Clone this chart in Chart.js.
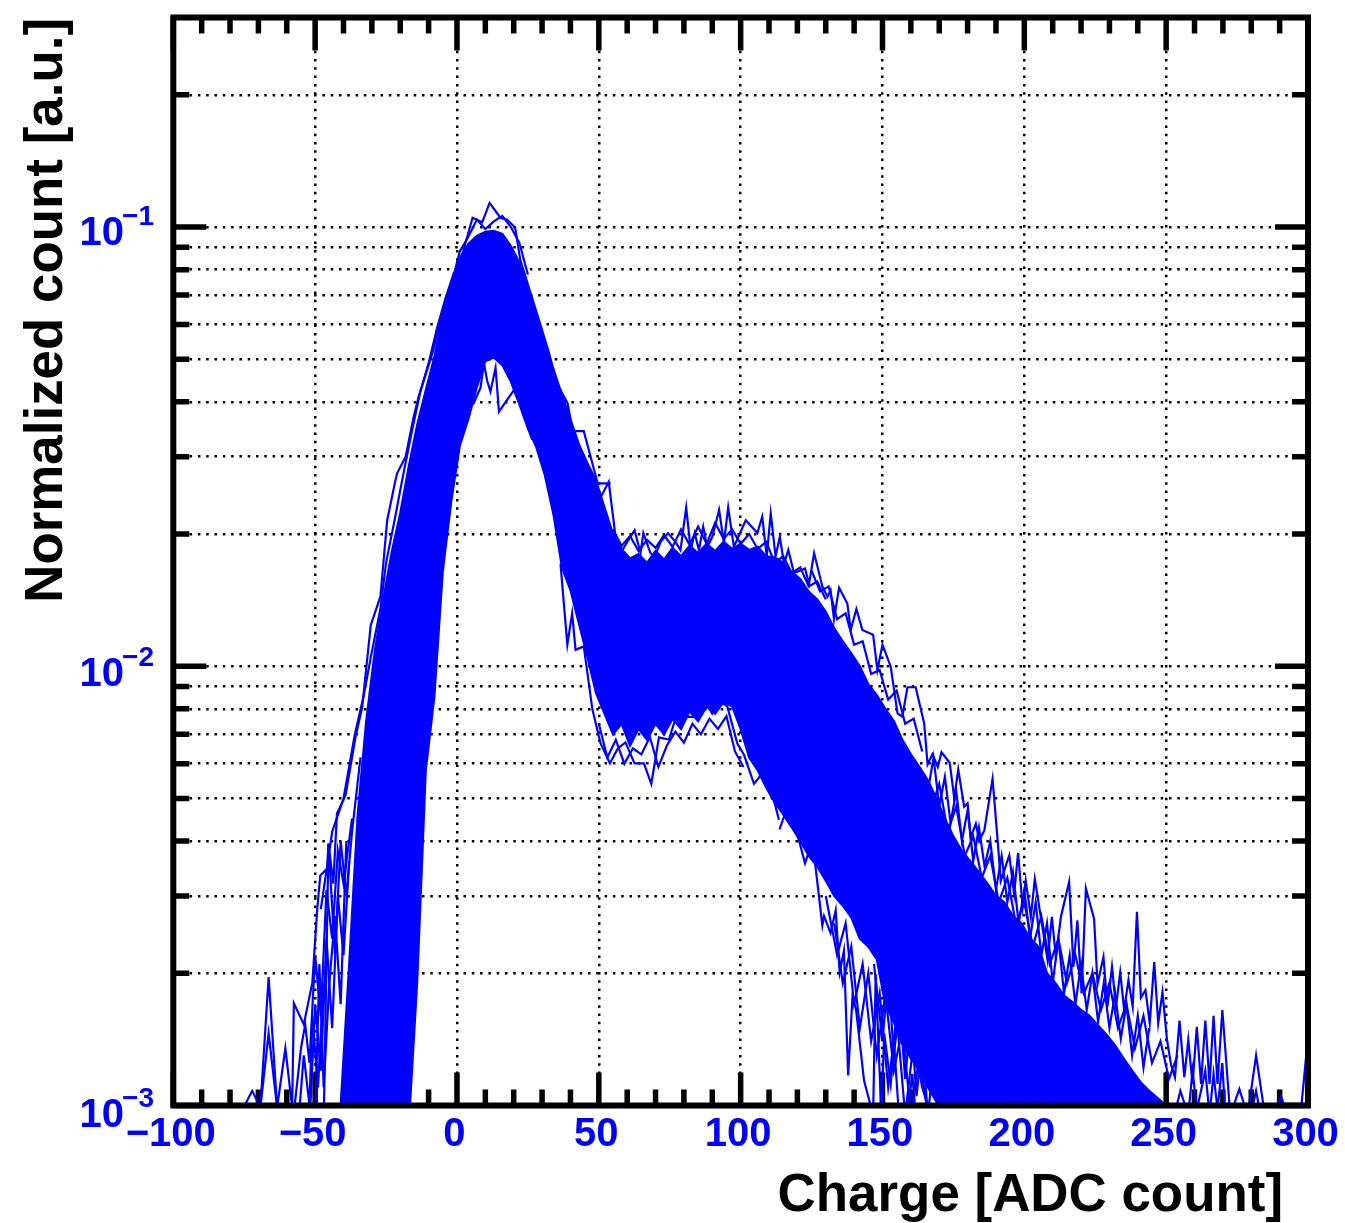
<!DOCTYPE html>
<html>
<head>
<meta charset="utf-8">
<title>Charge spectrum</title>
<script src="https://cdn.jsdelivr.net/npm/chart.js@4/dist/chart.umd.min.js"></script>
<style>
html, body { margin: 0; padding: 0; background: #fff; }
canvas { display: block; }
</style>
</head>
<body>
<canvas id="grafico" width="1345" height="1223"></canvas>
<script>
// Axis values
var xTicks = [-100, -50, 0, 50, 100, 150, 200, 250, 300];
var xTickLabels = ['\u2212100', '\u221250', '0', '50', '100', '150', '200', '250', '300'];
var xMinor = [-90, -80, -70, -60, -40, -30, -20, -10, 10, 20, 30, 40, 60, 70, 80, 90, 110, 120, 130, 140, 160, 170, 180, 190, 210, 220, 230, 240, 260, 270, 280, 290];
var yDecades = [0.001, 0.01, 0.1];
var yDecadeExp = ['\u22123', '\u22122', '\u22121'];
var yMinor = [0.002, 0.003, 0.004, 0.005, 0.006, 0.007, 0.008, 0.009, 0.02, 0.03, 0.04, 0.05, 0.06, 0.07, 0.08, 0.09, 0.2];

// Dense core of the overlapping channels: bin centres, top and bottom edge
var coreX = [-44, -41, -38, -35, -32, -29, -26, -23, -20, -17,
    -14, -11, -8, -5, -2, 1, 4, 7, 10, 13,
    16, 19, 22, 25, 28, 31, 34, 37, 40, 43,
    46, 49, 52, 55, 58, 61, 64, 67, 70, 73,
    76, 79, 82, 85, 88, 91, 94, 97, 100, 103,
    106, 109, 112, 115, 118, 121, 124, 127, 130, 133,
    136, 139, 142, 145, 148, 151, 154, 157, 160, 163,
    166, 169, 172, 175, 178, 181, 184, 187, 190, 193,
    196, 199, 202, 205, 208, 211, 214, 217, 220, 223,
    226, 229, 232, 235, 238, 241, 244, 247, 250, 253];
var coreTop = [.0009, .001, .0021, .0046, .0075, .0108, .0142, .0182, .0223, .0285,
    .0355, .0425, .0505, .0625, .0745, .085, .0915, .0955, .0975, .098,
    .0965, .0905, .083, .072, .0625, .054, .0475, .0415, .0365, .032,
    .029, .0265, .023, .02, .0185, .0176, .018, .0172, .0183, .0175,
    .0186, .0178, .0188, .0181, .019, .0183, .0192, .0185, .019, .0184,
    .0187, .0178, .0177, .0172, .0164, .0158, .0148, .0142, .0133, .0122,
    .0114, .0107, .01, .0091, .0086, .008, .0075, .0068, .0063, .0059,
    .0055, .005, .0045, .0041, .0038, .0036, .0034, .0032, .003, .0029,
    .0027, .0026, .0024, .0023, .002, .0019, .00178, .00172, .00165, .0016,
    .00152, .00145, .00137, .00128, .0012, .00113, .00108, .00104, .001, .00095];
var coreBottom = [.0009, .0009, .0009, .0009, .0009, .0009, .0009, .0009, .0009, .0009,
    .00193, .0058, .0085, .0165, .0238, .0318, .0365, .0432, .0495, .0505,
    .0485, .0445, .0395, .0348, .0315, .0272, .0222, .0168, .0149, .0125,
    .0105, .0087, .0078, .007, .0074, .0066, .0072, .0068, .0074, .007,
    .0076, .0072, .0079, .0075, .0081, .0078, .0083, .0081, .0072, .0062,
    .0058, .0053, .0049, .0046, .0043, .004, .0037, .0035, .00325, .003,
    .00285, .00268, .0024, .0023, .00215, .0017, .00155, .00138, .00128, .0012,
    .0011, .00102, .0009, .0009, .0009, .0009, .0009, .0009, .0009, .0009,
    .0009, .0009, .0009, .0009, .0009, .0009, .0009, .0009, .0009, .0009,
    .0009, .0009, .0009, .0009, .0009, .0009, .0009, .0009, .0009, .0009];

// Outlying channels
var riseX = [-69.3, -66.4, -63.4, -60.5, -58.1, -57.5, -54, -51, -49.3, -48.2, -45.8, -45.3, -43.6, -42.3, -39.3, -35.8, -33.4, -30.4, -27, -24.6, -21.7, -21.1, -18.1, -15.3, -13.5, -8.3, -3.5, -2.3, 2.3, 5.5, 8.9, 11.5, 15.3, 17.6, 20.5, 22.3, 29.4, 32.4, 35.3, 39, 40.8, 44.7, 49.6, 54.2];
var riseY = [.00099, .00196, .00099, .00135, .00099, .00171, .00153, .0019, .00278, .00334, .00346, .00395, .0032, .00462, .00508, .00688, .00808, .0124, .0144, .0215, .0265, .0275, .03, .0369, .0411, .0525, .07, .0692, .0887, .105, .1025, .1135, .105, .104, .0998, .0842, .06, .0518, .044, .0397, .0343, .0343, .0261, .0261];
var riseBX = [-48, -44, -40, -36, -33, -30, -27, -25, -22, -19, -16, -13, -10, -7, -4, -1];
var riseBY = [.0028, .0042, .005, .007, .0085, .0108, .0135, .0172, .0215, .0272, .034, .042, .049, .059, .069, .079];
var peakX = [-2, 1, 4, 7, 10, 13, 16, 19, 22, 25];
var peakY = [.074, .088, .095, .104, .099, .103, .106, .1, .092, .078];

var hollowX = [3.6, 5.9, 8.3, 9.5, 10.6, 11.8, 13.6, 14.8, 20, 21.2, 23.6, 26.5];
var hollowY = [.0388, .0397, .0431, .049, .0448, .0422, .0478, .038, .0425, .0411, .0373, .0328];

var ridgeX = [48.3, 50.6, 53.5, 55.9, 58.3, 60, 62.6, 64.7, 65.7, 68.2, 69.7, 71.8, 74.4, 77, 78.8, 80.8, 82.4, 83.8, 85.3, 86.8, 88.2, 90, 92.4, 94.1, 95.6, 97.6, 101.8, 105.9, 107.6, 109.2, 110.6, 112.3, 113.8, 115.3, 116.8, 118.8, 122.7, 124.1, 125.9, 128.8, 130.6, 131.7, 132.9, 134.7, 137.6, 138.8, 140.8, 142.9, 146.7, 148.2, 150, 152.9, 155.3, 157, 158.8, 161.7, 164.7, 165.9, 167.6, 169.5, 170.8, 173.7, 175.3, 176.7, 178.8, 180, 181.1, 182.9, 184.1, 185.9, 188.8, 190.6, 191.7, 194.7, 196.4, 197.8, 199.4, 200.5, 202.3, 203.7, 208.2, 209.7, 211.1, 212.9, 215.8, 217.3, 218.7, 220.2, 221.7, 224.6, 225.8, 227.9, 229.3, 230.9, 232.3, 233.8, 235.2, 236.7, 238.2, 239.7, 241.1, 242.7, 244.2, 245.8, 247.2, 248.7, 250.3, 251.7, 253.1, 254.7, 256.4, 257.8, 259.3, 260.8, 262.3, 263.8, 265.3, 266.7, 268.1, 269.8, 272.6, 275.8, 278.7, 281.7, 284.8];
var ridgeY = [.0263, .0242, .0263, .0197, .0184, .0192, .0204, .0181, .0201, .0181, .0178, .0192, .0201, .0192, .0184, .023, .0184, .0201, .0184, .0208, .0187, .0197, .0227, .0191, .023, .0187, .0215, .0201, .0219, .0178, .0223, .0178, .0197, .0171, .0184, .0163, .0167, .0154, .0181, .0152, .0144, .0149, .0128, .0151, .0139, .0121, .0135, .0121, .0118, .0098, .0112, .00998, .00781, .00768, .00896, .00896, .00741, .00598, .00631, .0059, .00637, .00603, .00501, .00582, .00479, .00488, .00408, .00438, .00401, .00423, .00554, .00401, .00325, .00371, .00303, .00376, .00283, .00325, .00269, .00328, .00214, .00269, .00218, .00269, .00323, .00207, .00264, .0018, .00312, .00266, .00189, .00218, .00168, .00207, .00168, .00201, .00165, .00193, .00168, .00276, .00176, .00183, .00154, .00212, .00154, .00181, .00141, .00124, .00116, .00156, .00116, .00141, .00112, .00151, .00112, .00156, .00112, .0016, .00112, .00165, .00095, .00109, .00095, .0013, .00095];
var ridgeBX = [55, 58, 61, 64, 67, 70, 73, 76, 79, 82, 85, 88, 91, 94, 97, 100, 103, 106, 109, 112, 115, 118, 121, 124, 127, 130];
var ridgeBY = [.0205, .0188, .0198, .0183, .0194, .0186, .0199, .0187, .0205, .0189, .0208, .019, .0212, .0195, .0205, .019, .02, .0185, .0192, .0172, .0178, .0163, .0168, .0152, .0156, .0142];
var shoulderX = [125, 128, 131, 134, 137, 140, 143, 146, 149, 152, 155, 158, 161, 164];
var shoulderY = [.0165, .0148, .0152, .0128, .0132, .0112, .0114, .0096, .0098, .0084, .0088, .0074, .0076, .0064];

var valleyX = [36.5, 38.9, 40.6, 41.8, 44.7, 47.7, 50.6, 53.9, 56.7, 59.4, 62.6, 65.9, 68.5, 71.2, 74.7, 77.6, 80.6, 83.5, 86.5, 90, 92.9, 95.3, 98.8, 101.2, 104.7, 107.6, 110.6, 113.5];
var valleyY = [.0171, .0112, .0132, .0109, .0111, .008, .00668, .00601, .0065, .00671, .00601, .00601, .0054, .00689, .00681, .0078, .00767, .00767, .00853, .0078, .00831, .0081, .00668, .00628, .0054, .0057, .0053, .00447];
var valleyBX = [50, 53, 56, 59, 62, 65, 68, 71, 74, 77, 80, 83, 86, 89, 92, 95, 98, 101];
var valleyBY = [.0074, .0062, .0068, .006, .0065, .0063, .0069, .0059, .0066, .0071, .0067, .0074, .007, .0076, .0072, .0077, .0064, .0059];

var fallX = [113.7, 117, 122.7, 125.3, 128.8, 129.4, 131.7, 133.5, 134.9, 136.4, 137.9, 139.4, 140.6, 143.5, 146.7, 147.6, 149.6, 150.6, 152.9, 154.1, 155.8, 158.8, 160.5, 161.7];
var fallY = [.00425, .0049, .00356, .00402, .00257, .0027, .00247, .00278, .00201, .00225, .00117, .00176, .00167, .00114, .00095, .00199, .00095, .00146, .00112, .00138, .00095, .00095, .00118, .00095];
var fallBX = [133, 136, 139, 142, 145, 148, 151, 154, 157, 160, 163, 166];
var fallBY = [.0026, .0019, .0023, .0015, .002, .0013, .0018, .0012, .0015, .00095, .0013, .00095];
var fallCX = [130, 134, 137, 140, 143, 146, 149, 152, 155, 158, 161, 164, 167];
var fallCY = [.003, .0022, .0026, .0017, .0021, .0014, .0018, .0011, .0016, .00095, .0014, .0011, .00095];
var fallDX = [147, 150, 152, 154, 156, 158, 160, 162, 164, 166, 168, 170];
var fallDY = [.0021, .0014, .002, .0013, .0017, .00115, .0016, .00105, .0014, .00095, .00125, .00095];

var tailMidX = [166, 168, 170, 172, 174, 176, 178, 180, 182, 184, 186, 188, 190, 192, 194, 196, 198, 200, 202, 204, 206, 208, 210, 212, 214, 216, 218, 220, 222, 224, 226, 228, 230, 232, 234, 236, 238, 240, 242, 244];
var tailMidY = [.0052, .0062, .0048, .0056, .0044, .0052, .004, .0047, .0036, .0043, .0035, .004, .0031, .0037, .0029, .0034, .0026, .0031, .0024, .0029, .0022, .0026, .0019, .0024, .0018, .0022, .0017, .0021, .00165, .002, .00155, .0019, .0015, .0018, .00142, .0017, .0013, .0016, .00122, .0015];
var tailMidBX = [167, 170, 173, 176, 179, 182, 185, 188, 191, 194, 197, 200, 203, 206, 209, 212, 215, 218, 221, 224, 227, 230, 233, 236, 239, 242, 245, 248, 251, 254];
var tailMidBY = [.0047, .0054, .0042, .0048, .0037, .0041, .0033, .0037, .0029, .0033, .0026, .0029, .0023, .0027, .0021, .0024, .0019, .0022, .0018, .002, .00165, .0019, .0015, .0017, .00135, .0016, .00125, .0014, .00115, .0013];
var tailLowX = [252, 255, 257.8, 259.3, 260.8, 262.3, 263.8, 265.3, 266.7, 268.1, 269.8, 271, 279, 281.7, 284];
var tailLowY = [.0009, .00108, .00095, .0012, .00098, .00108, .0012, .00095, .00118, .00098, .00125, .0009, .0009, .00108, .0009];
var tailEndX = [275.8, 287, 290.5, 294, 297, 299.9];
var tailEndY = [.0009, .0009, .00105, .0009, .0009, .00141];

var leftFarX = [-75.2, -72.2, -69.3, -66.4, -63.4];
var leftFarY = [.00099, .00108, .00099, .00146, .00099];
var leftLineX = [-58, -55, -53.5, -52, -50, -48, -46, -44, -42, -40, -37];
var leftLineY = [.0009, .00135, .00153, .00125, .0022, .0016, .0031, .0024, .0038, .0032, .0045];
var leftLine2X = [-47, -45.3, -43, -41, -39, -37, -34];
var leftLine2Y = [.0009, .00395, .0022, .004, .003, .0042, .0062];
var leftLine3X = [-52, -50, -48, -46, -44, -42, -40, -38];
var leftLine3Y = [.0009, .0017, .0012, .0024, .0015, .003, .0022, .0036];
var leftLine4X = [-50, -48.5, -47, -45, -43, -41, -39];
var leftLine4Y = [.0009, .0021, .0011, .0019, .0027, .0017, .004];
var leftLine5X = [-56, -54, -52, -51, -49, -47];
var leftLine5Y = [.0009, .0013, .001, .0016, .0011, .0019];

function puntos(xs, ys) {
    return xs.map(function(x, i) { return { x: x, y: ys[i] }; });
}

function linea(xs, ys, extra) {
    var d = {
        data: puntos(xs, ys),
        borderColor: '#0000ff',
        borderWidth: 2.2,
        pointRadius: 0,
        tension: 0,
        fill: false
    };
    return Object.assign(d, extra || {});
}

var BLUE = '#0000ff';
var FONT = '"Liberation Sans", Arial, sans-serif';

// Ticks inside the frame, exponents and axis titles
var marco = {
    id: 'marco',
    beforeDatasetsDraw: function(chart) {
        var c = chart.ctx, a = chart.chartArea, sx = chart.scales.x, sy = chart.scales.y;
        c.save();
        c.strokeStyle = '#000';
        c.lineWidth = 5.5;
        c.beginPath();
        xTicks.forEach(function(v) {
            var p = sx.getPixelForValue(v);
            c.moveTo(p, a.top); c.lineTo(p, a.top + 33);
            c.moveTo(p, a.bottom); c.lineTo(p, a.bottom - 33);
        });
        xMinor.forEach(function(v) {
            var p = sx.getPixelForValue(v);
            c.moveTo(p, a.top); c.lineTo(p, a.top + 16);
            c.moveTo(p, a.bottom); c.lineTo(p, a.bottom - 16);
        });
        yDecades.forEach(function(v) {
            var p = sy.getPixelForValue(v);
            c.moveTo(a.left, p); c.lineTo(a.left + 33, p);
            c.moveTo(a.right, p); c.lineTo(a.right - 33, p);
        });
        yMinor.forEach(function(v) {
            var p = sy.getPixelForValue(v);
            c.moveTo(a.left, p); c.lineTo(a.left + 16, p);
            c.moveTo(a.right, p); c.lineTo(a.right - 16, p);
        });
        c.stroke();
        c.restore();
    },
    afterDatasetsDraw: function(chart) {
        var c = chart.ctx, a = chart.chartArea, sy = chart.scales.y;
        c.save();
        c.strokeStyle = '#000';
        c.lineWidth = 6;
        c.strokeRect(a.left, a.top, a.right - a.left, a.bottom - a.top);

        // exponentes de los decades
        c.fillStyle = BLUE;
        c.textAlign = 'right';
        c.textBaseline = 'alphabetic';
        yDecades.forEach(function(v, i) {
            var p = sy.getPixelForValue(v);
            c.font = 'bold 40px ' + FONT;
            c.fillText('10', 124, p + 21 - i * 1.5);
            c.font = 'bold 28px ' + FONT;
            c.fillText(yDecadeExp[i], 154, p + 1 - i * 1.5);
        });

        // titulos
        c.fillStyle = '#000';
        c.font = 'bold 52.9px ' + FONT;
        c.textAlign = 'right';
        c.fillText('Charge [ADC count]', 1283, 1211);
        c.translate(62, 18);
        c.rotate(-Math.PI / 2);
        c.fillText('Normalized count [a.u.]', 0, 0);
        c.restore();
    }
};

var datasets = [
    linea(coreX, coreTop, { fill: '+1', backgroundColor: BLUE }),
    linea(coreX, coreBottom),
    linea(riseX, riseY),
    linea(riseBX, riseBY),
    linea(peakX, peakY),
    linea(hollowX, hollowY),
    linea(ridgeX, ridgeY),
    linea(ridgeBX, ridgeBY),
    linea(shoulderX, shoulderY),
    linea(valleyX, valleyY),
    linea(valleyBX, valleyBY),
    linea(fallX, fallY),
    linea(fallBX, fallBY),
    linea(fallCX, fallCY),
    linea(fallDX, fallDY),
    linea(tailMidX, tailMidY),
    linea(tailMidBX, tailMidBY),
    linea(tailLowX, tailLowY),
    linea(tailEndX, tailEndY),
    linea(leftFarX, leftFarY),
    linea(leftLineX, leftLineY),
    linea(leftLine2X, leftLine2Y),
    linea(leftLine3X, leftLine3Y),
    linea(leftLine4X, leftLine4Y),
    linea(leftLine5X, leftLine5Y)
];

new Chart(document.getElementById('grafico').getContext('2d'), {
    type: 'line',
    data: { datasets: datasets },
    plugins: [marco],
    options: {
        responsive: false,
        animation: false,
        parsing: false,
        normalized: false,
        layout: { padding: { left: 0, right: 0, top: 17.5, bottom: 0 } },
        plugins: { legend: { display: false }, tooltip: { enabled: false } },
        scales: {
            x: {
                type: 'linear',
                min: -100,
                max: 300,
                afterBuildTicks: function(s) { s.ticks = xTicks.map(function(v) { return { value: v }; }); },
                afterFit: function(s) { s.height = 117.5; s.paddingRight = 37; s.paddingLeft = 0; },
                grid: { color: '#000', lineWidth: 2.5, drawTicks: false },
                border: { display: false, dash: [2.5, 5.8] },
                ticks: {
                    autoSkip: false,
                    maxRotation: 0,
                    padding: 5,
                    labelOffset: -2.5,
                    color: BLUE,
                    font: { family: FONT, size: 40, weight: 'bold' },
                    callback: function(v) { return xTickLabels[xTicks.indexOf(v)]; }
                }
            },
            y: {
                type: 'logarithmic',
                min: 0.001,
                max: 0.3,
                afterBuildTicks: function(s) {
                    s.ticks = yDecades.concat(yMinor).sort(function(a, b) { return a - b; }).map(function(v) { return { value: v }; });
                },
                afterFit: function(s) { s.width = 173.3; },
                grid: { color: '#000', lineWidth: 2.5, drawTicks: false },
                border: { display: false, dash: [2.5, 5.8] },
                ticks: { display: false, autoSkip: false }
            }
        }
    }
});
</script>
</body>
</html>
